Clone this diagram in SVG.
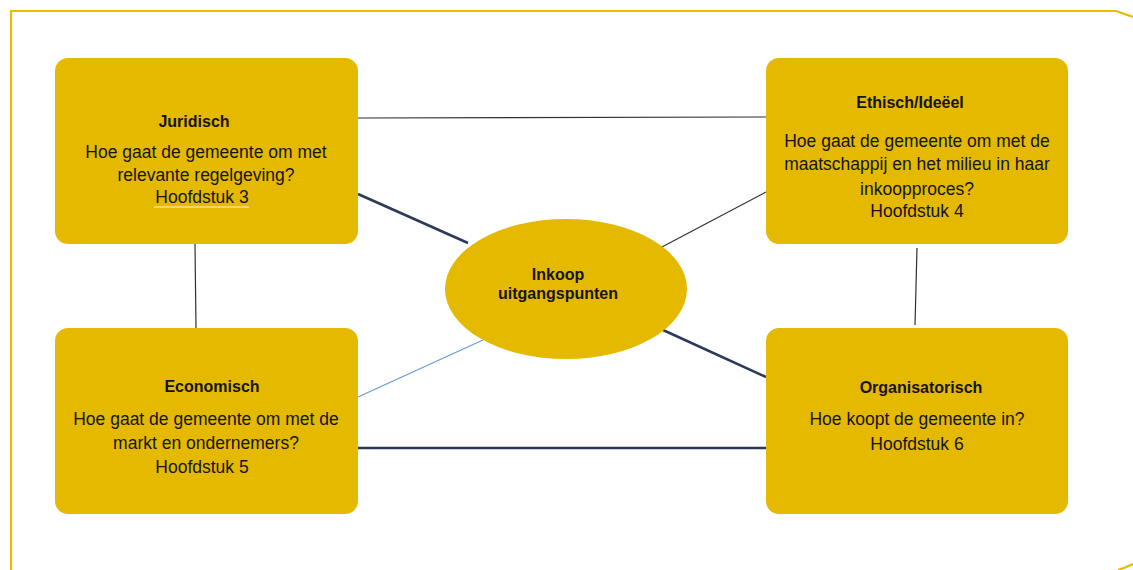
<svg xmlns="http://www.w3.org/2000/svg" width="1133" height="570" viewBox="0 0 1133 570">
<style>
.box{fill:#E5B900}
.t{font-family:"Liberation Sans",Arial,sans-serif;fill:#141414;text-anchor:middle}
.h{font-size:16px;font-weight:bold}
.b{font-size:17.5px}
.thin{stroke:#303030;stroke-width:1.2;fill:none}
.thick{stroke:#2C3A5A;stroke-width:2.6;fill:none}
.blue{stroke:#6A9BD2;stroke-width:1.3;fill:none}
</style>
<rect width="1133" height="570" fill="#fff"/>
<path d="M11,570 L11,11 L1116,11 L1133,17" fill="none" stroke="#E8BC00" stroke-width="2.2"/>
<path d="M1118,570 Q1127,567 1133,564" fill="none" stroke="#E8BC00" stroke-width="2.2"/>
<g id="connectors">
<line class="thin" x1="358" y1="118" x2="766" y2="117"/>
<line class="thick" x1="358" y1="194" x2="468" y2="243"/>
<line class="thin" x1="660" y1="248" x2="766" y2="192"/>
<line class="thin" x1="195" y1="244" x2="196" y2="328"/>
<line class="thin" x1="917" y1="248" x2="915" y2="325"/>
<line class="blue" x1="483" y1="340" x2="358" y2="397"/>
<line class="thick" x1="663" y1="330" x2="766" y2="377"/>
<line class="thick" x1="358" y1="448" x2="766" y2="448"/>
</g>
<g id="juridisch">
<rect class="box" x="55" y="58" width="303" height="186" rx="13"/>
<text class="t h" x="194" y="127">Juridisch</text>
<text class="t b" x="206" y="158">Hoe gaat de gemeente om met</text>
<text class="t b" x="206" y="181">relevante regelgeving?</text>
<text class="t b" x="202" y="203">Hoofdstuk 3</text>
<line x1="154" y1="207" x2="249" y2="207" stroke="#FFF6D0" stroke-width="1.2"/>
</g>
<g id="ethisch">
<rect class="box" x="766" y="58" width="302" height="186" rx="13"/>
<text class="t h" x="910" y="108">Ethisch/Ideëel</text>
<text class="t b" x="917" y="147">Hoe gaat de gemeente om met de</text>
<text class="t b" x="917" y="170">maatschappij en het milieu in haar</text>
<text class="t b" x="917" y="195">inkoopproces?</text>
<text class="t b" x="917" y="217">Hoofdstuk 4</text>
</g>
<g id="economisch">
<rect class="box" x="55" y="328" width="303" height="186" rx="13"/>
<text class="t h" x="212" y="392">Economisch</text>
<text class="t b" x="206" y="425">Hoe gaat de gemeente om met de</text>
<text class="t b" x="206" y="449">markt en ondernemers?</text>
<text class="t b" x="202" y="473">Hoofdstuk 5</text>
</g>
<g id="organisatorisch">
<rect class="box" x="766" y="328" width="302" height="186" rx="13"/>
<text class="t h" x="921" y="393">Organisatorisch</text>
<text class="t b" x="917" y="425">Hoe koopt de gemeente in?</text>
<text class="t b" x="917" y="450">Hoofdstuk 6</text>
</g>
<g id="inkoop">
<ellipse class="box" cx="566" cy="289" rx="121" ry="70"/>
<text class="t h" x="558" y="280">Inkoop</text>
<text class="t h" x="558" y="299">uitgangspunten</text>
</g>
</svg>
